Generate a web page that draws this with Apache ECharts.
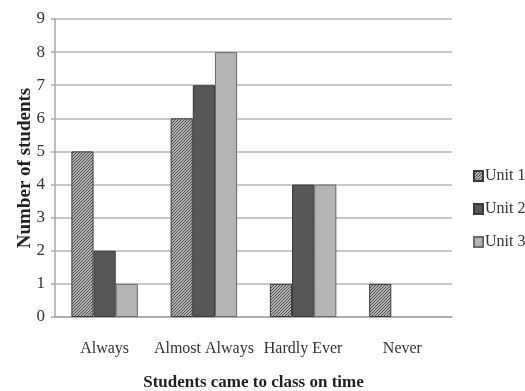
<!DOCTYPE html>
<html>
<head>
<meta charset="utf-8">
<script src="https://cdn.jsdelivr.net/npm/echarts@6/dist/echarts.min.js"></script>
<style>
  html, body { margin: 0; padding: 0; background: #fff; }
  #chart { width: 525px; height: 391px; }
</style>
</head>
<body>
<div id="chart"></div>
<script>
const categories = ['Always', 'Almost Always', 'Hardly Ever', 'Never'];
const unit1 = [5, 6, 1, 1];
const unit2 = [2, 7, 4, 0];
const unit3 = [1, 8, 4, 0];
const seriesNames = ['Unit 1', 'Unit 2', 'Unit 3'];

// Fine pixel-level diagonal hatch used for the first series
function hatchPattern() {
  const c = document.createElement('canvas');
  c.width = 3; c.height = 3;
  const g = c.getContext('2d');
  for (let y = 0; y < 3; y++) {
    for (let x = 0; x < 3; x++) {
      g.fillStyle = (x + y) % 3 === 0 ? '#4e4e4e' : '#b2b2b2';
      g.fillRect(x, y, 1, 1);
    }
  }
  return c;
}

// Zero-height bars get no outline so they vanish into the axis line
function barData(values) {
  return values.map(v => v === 0 ? { value: v, itemStyle: { borderWidth: 0 } } : v);
}

const font = '"Liberation Serif", "DejaVu Serif", serif';
const chart = echarts.init(document.getElementById('chart'), null, { renderer: 'canvas' });

chart.setOption({
  animation: false,
  backgroundColor: '#fff',
  textStyle: { fontFamily: font },
  grid: { left: 55, right: 73, top: 19, bottom: 74, containLabel: false, outerBoundsMode: 'none' },
  legend: {
    orient: 'vertical',
    left: 473,
    top: 168,
    padding: 0,
    itemGap: 17,
    itemWidth: 9,
    itemHeight: 10,
    icon: 'rect',
    textStyle: { fontFamily: font, fontSize: 16, color: '#333', padding: [0, 0, 0, -3] },
    data: seriesNames
  },
  xAxis: {
    type: 'category',
    data: categories,
    name: 'Students came to class on time',
    nameLocation: 'middle',
    nameGap: 57,
    nameMoveOverlap: false,
    nameTextStyle: { fontFamily: font, fontSize: 17, fontWeight: 'bold', color: '#222' },
    axisLine: { lineStyle: { color: '#a8a8a8', width: 1.5 } },
    axisTick: { show: false },
    axisLabel: { fontFamily: font, fontSize: 16, color: '#333', margin: 24, interval: 0 }
  },
  yAxis: {
    type: 'value',
    min: 0, max: 9, interval: 1,
    name: 'Number of students',
    nameLocation: 'middle',
    nameGap: 20,
    nameMoveOverlap: false,
    nameTextStyle: { fontFamily: font, fontSize: 19, fontWeight: 'bold', color: '#222' },
    axisLine: { show: true, lineStyle: { color: '#a8a8a8', width: 1.5 } },
    axisTick: { show: true, length: 4, lineStyle: { color: '#a8a8a8', width: 1.5 } },
    axisLabel: { fontFamily: font, fontSize: 17, color: '#333', margin: 10 },
    splitLine: { lineStyle: { color: '#b4b4b4', width: 1.5 } }
  },
  series: [
    {
      name: seriesNames[0], type: 'bar', data: barData(unit1),
      barGap: '0%', barCategoryGap: '33%',
      itemStyle: { color: { image: hatchPattern(), repeat: 'repeat' }, borderColor: '#3a3a3a', borderWidth: 1 }
    },
    {
      name: seriesNames[1], type: 'bar', data: barData(unit2),
      itemStyle: { color: '#575757', borderColor: '#3a3a3a', borderWidth: 1 }
    },
    {
      name: seriesNames[2], type: 'bar', data: barData(unit3),
      itemStyle: { color: '#b4b4b6', borderColor: '#6a6a6a', borderWidth: 1 }
    }
  ]
});
</script>
</body>
</html>
